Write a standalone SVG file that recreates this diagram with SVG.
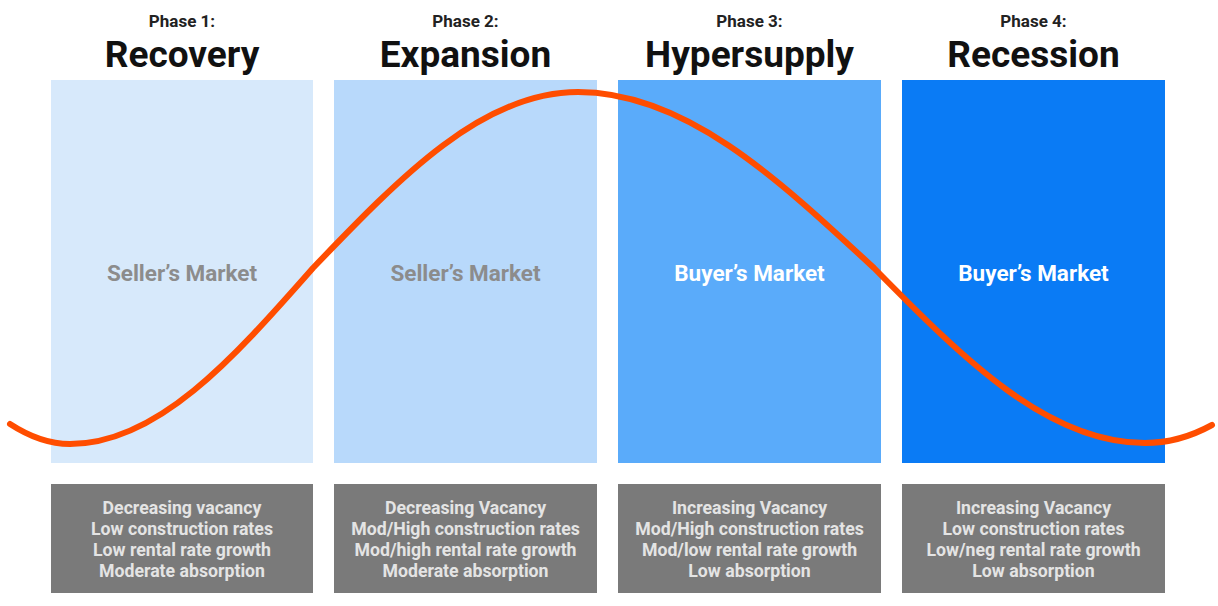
<svg xmlns="http://www.w3.org/2000/svg" width="1218" height="606" viewBox="0 0 1218 606">
  <style>
    .phase { font-family: Roboto, "Liberation Sans", sans-serif; font-weight: 700; font-size: 17px; fill: #222; text-anchor: middle; }
    .title { font-family: Roboto, "Liberation Sans", sans-serif; font-weight: 700; font-size: 37px; fill: #111; text-anchor: middle; }
    .market { font-family: Roboto, "Liberation Sans", sans-serif; font-weight: 700; font-size: 22.5px; text-anchor: middle; }
    .seller { fill: #8c8c8c; }
    .buyer { fill: #ffffff; }
    .info { fill: #7a7a7a; }
    .info-text { font-family: Roboto, "Liberation Sans", sans-serif; font-weight: 700; font-size: 17.7px; fill: #e4e4e4; text-anchor: middle; }
    .curve { fill: none; stroke: #ff4d00; stroke-width: 6; stroke-linecap: round; }
  </style>

  <rect width="1218" height="606" fill="#ffffff"/>

  <!-- Phase 1 -->
  <g id="phase1">
    <text class="phase" x="182" y="27">Phase 1:</text>
    <text class="title" x="182" y="67">Recovery</text>
    <rect x="51" y="80" width="262" height="383" fill="#d7e9fb"/>
    <text class="market seller" x="182" y="281">Seller’s Market</text>
    <rect class="info" x="51" y="484" width="262" height="109"/>
    <text class="info-text" x="182" y="514">Decreasing vacancy</text>
    <text class="info-text" x="182" y="535">Low construction rates</text>
    <text class="info-text" x="182" y="556">Low rental rate growth</text>
    <text class="info-text" x="182" y="577">Moderate absorption</text>
  </g>

  <!-- Phase 2 -->
  <g id="phase2">
    <text class="phase" x="465.5" y="27">Phase 2:</text>
    <text class="title" x="465.5" y="67">Expansion</text>
    <rect x="334" y="80" width="263" height="383" fill="#b8d9fb"/>
    <text class="market seller" x="465.5" y="281">Seller’s Market</text>
    <rect class="info" x="334" y="484" width="263" height="109"/>
    <text class="info-text" x="465.5" y="514">Decreasing Vacancy</text>
    <text class="info-text" x="465.5" y="535">Mod/High construction rates</text>
    <text class="info-text" x="465.5" y="556">Mod/high rental rate growth</text>
    <text class="info-text" x="465.5" y="577">Moderate absorption</text>
  </g>

  <!-- Phase 3 -->
  <g id="phase3">
    <text class="phase" x="749.5" y="27">Phase 3:</text>
    <text class="title" x="749.5" y="67">Hypersupply</text>
    <rect x="618" y="80" width="263" height="383" fill="#5aabfa"/>
    <text class="market buyer" x="749.5" y="281">Buyer’s Market</text>
    <rect class="info" x="618" y="484" width="263" height="109"/>
    <text class="info-text" x="749.5" y="514">Increasing Vacancy</text>
    <text class="info-text" x="749.5" y="535">Mod/High construction rates</text>
    <text class="info-text" x="749.5" y="556">Mod/low rental rate growth</text>
    <text class="info-text" x="749.5" y="577">Low absorption</text>
  </g>

  <!-- Phase 4 -->
  <g id="phase4">
    <text class="phase" x="1033.5" y="27">Phase 4:</text>
    <text class="title" x="1033.5" y="67">Recession</text>
    <rect x="902" y="80" width="263" height="383" fill="#0a7bf5"/>
    <text class="market buyer" x="1033.5" y="281">Buyer’s Market</text>
    <rect class="info" x="902" y="484" width="263" height="109"/>
    <text class="info-text" x="1033.5" y="514">Increasing Vacancy</text>
    <text class="info-text" x="1033.5" y="535">Low construction rates</text>
    <text class="info-text" x="1033.5" y="556">Low/neg rental rate growth</text>
    <text class="info-text" x="1033.5" y="577">Low absorption</text>
  </g>

  <!-- market cycle curve: trough, rising midline, peak, falling midline, trough -->
  <g id="connectors">
    <path class="curve" d="M10,424 C30,437 50,444 70,444 C157,444 232,360 313,268 C401.5,175.6 483,92 578,92 C684,92 775,176 874,268 C964.5,360 1048,443 1145,443 C1170,443 1192,436 1212,425"/>
  </g>
</svg>
